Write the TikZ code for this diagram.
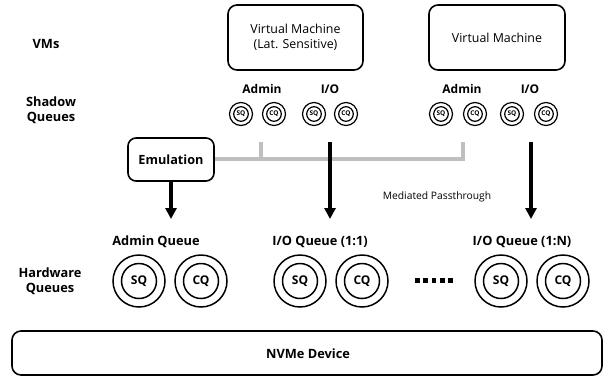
\documentclass[tikz,border=0pt]{standalone}
\usepackage{fontspec}
\setmainfont{Open Sans}
\usetikzlibrary{arrows.meta}
\tikzset{
  lbl/.style={font=\fontsize{12.8}{15}\selectfont\bfseries, align=center, inner sep=0pt},
  slbl/.style={font=\fontsize{12}{14}\selectfont\bfseries, inner sep=0pt},
  vmbox/.style={draw, line width=1.6pt, rounded corners=9pt, align=center, inner sep=0pt},
  vmtext/.style={font=\fontsize{12.4}{15}\selectfont, align=center, inner sep=0pt},
  emubox/.style={draw, line width=1.6pt, rounded corners=8pt, font=\fontsize{12.7}{14}\selectfont\bfseries, inner sep=0pt},
  squeue/.style={circle, draw, line width=1.2pt, minimum size=23pt, inner sep=0pt,
     font=\fontsize{6.5}{7}\selectfont\bfseries,
     path picture={\draw[line width=1.2pt] (path picture bounding box.center) circle (7.3pt);}},
  hqueue/.style={circle, draw, line width=1.5pt, minimum size=52pt, inner sep=0pt,
     font=\fontsize{12}{13}\selectfont\bfseries,
     path picture={\draw[line width=1.5pt] (path picture bounding box.center) circle (17.5pt);}},
  grayline/.style={draw=black!25, line width=3.6pt},
  blackarrow/.style={draw, line width=3.2pt, -{Triangle[length=11pt,width=11pt]}},
}
\begin{document}
\begin{tikzpicture}[x=1pt,y=-1pt]
\useasboundingbox (0,0) rectangle (604,376);
% row labels
\node[lbl] (lvm) at (46,44) {VMs};
\node[lbl] (lsh) at (51,110) {Shadow\\Queues};
\node[lbl] (lhw) at (50,281) {Hardware\\Queues};
% VMs
\path[vmbox] (228,5) rectangle (363,70);
\node[vmtext] (vm1) at (295.5,37) {Virtual Machine\\(Lat. Sensitive)};
\path[vmbox] (429,5) rectangle (565,70);
\node[vmtext] (vm2) at (497,38) {Virtual Machine};
% shadow labels
\node[slbl] (sa1) at (262,89) {Admin};
\node[slbl] (si1) at (330,89) {I/O};
\node[slbl] (sa2) at (462,89) {Admin};
\node[slbl] (si2) at (530,89) {I/O};
% shadow queues
\node[squeue] (ssq1) at (241,114) {SQ};
\node[squeue] (scq1) at (274,114) {CQ};
\node[squeue] (ssq2) at (314,114) {SQ};
\node[squeue] (scq2) at (346,114) {CQ};
\node[squeue] (ssq3) at (441,114) {SQ};
\node[squeue] (scq3) at (475,114) {CQ};
\node[squeue] (ssq4) at (512,114) {SQ};
\node[squeue] (scq4) at (546,114) {CQ};
% emulation
\node[emubox, minimum width=86pt, minimum height=43pt] (emu) at (171,159.5) {Emulation};
% gray lines
\coordinate (ga1) at (261,142);
\coordinate (ga2) at (463,142);
\coordinate (gj1) at (261,159);
\draw[grayline] (emu.east |- 0,159) -- (gj1) -- (463,159) -- (ga2);
\draw[grayline] (ga1) -- (gj1);
% black arrows
\coordinate (io1) at (330,142);
\coordinate (io2) at (531,142);
\coordinate (ea) at (171,219);
\coordinate (ia1) at (330,219);
\coordinate (ia2) at (531,219);
\draw[blackarrow] (emu.south) -- (ea);
\draw[blackarrow] (io1) -- (ia1);
\draw[blackarrow] (io2) -- (ia2);
\node[font=\fontsize{10.3}{12}\selectfont] (med) at (437,197) {Mediated Passthrough};
% hardware queue labels
\node[lbl] (ha) at (156,242) {Admin Queue};
\node[lbl] (hi1) at (320,242) {I/O Queue (1:1)};
\node[lbl] (hi2) at (522,242) {I/O Queue (1:N)};
% hardware queues
\node[hqueue] (hsq1) at (139,281) {SQ};
\node[hqueue] (hcq1) at (201,281) {CQ};
\node[hqueue] (hsq2) at (300,281) {SQ};
\node[hqueue] (hcq2) at (362,281) {CQ};
\node[hqueue] (hsq3) at (501,281) {SQ};
\node[hqueue] (hcq3) at (563,281) {CQ};
% dots
\foreach \i in {0,1,2,3,4} \fill (415+\i*8.3,278) rectangle ++(4.8,4.8);
% NVMe
\path[vmbox] (12,331) rectangle (602,375);
\node[lbl] (nvme) at (308,354) {NVMe Device};
\end{tikzpicture}
\end{document}
